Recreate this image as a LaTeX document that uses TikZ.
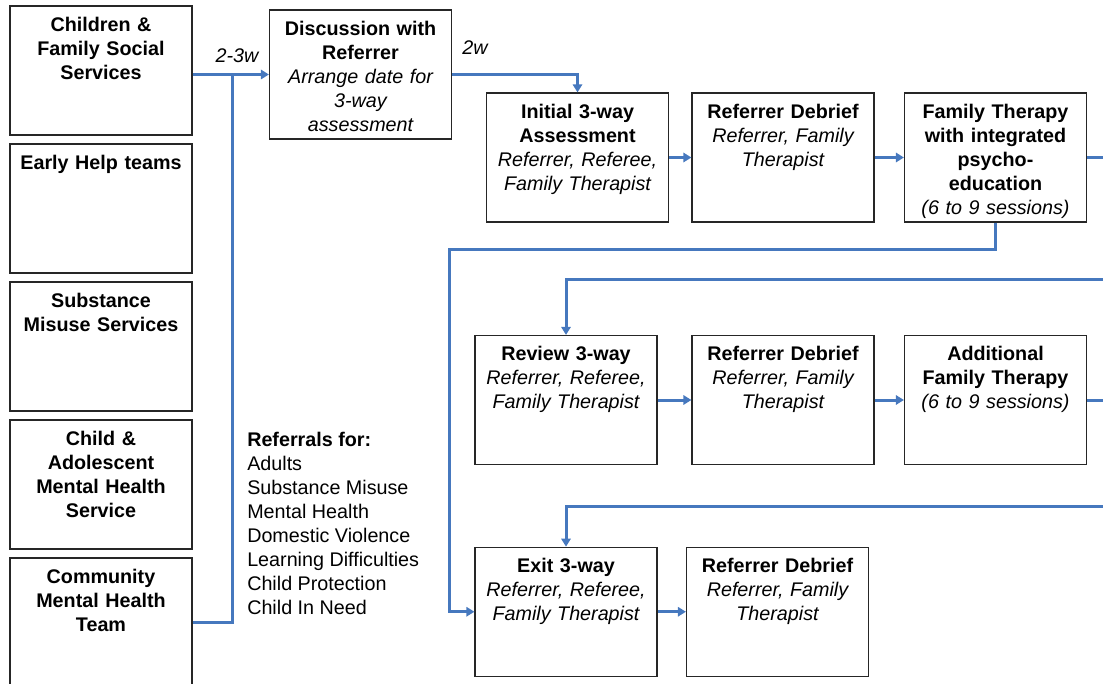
\documentclass[tikz,border=0pt]{standalone}
\usepackage{fontspec}
\setmainfont{Liberation Sans}
\usetikzlibrary{arrows.meta}
\definecolor{flowblue}{RGB}{70,120,190}
\begin{document}
\begin{tikzpicture}[x=0.75pt,y=-0.75pt,
  box/.style={draw=black!85, line width=0.9pt, minimum width=136.5pt,
    minimum height=96.75pt, inner sep=0pt},
  boxtext/.style={anchor=north, inner sep=0pt, yshift=-8.6pt, text width=134pt,
    align=center, font=\fontsize{14.8}{18}\selectfont},
  link/.style={draw=flowblue, line width=2.25pt},
  flow/.style={link, -{Triangle[length=6pt,width=7pt]}},
  lag/.style={font=\fontsize{14.8}{18}\selectfont\itshape, inner sep=0pt, anchor=base},
  listtext/.style={anchor=north west, inner sep=0pt, align=left,
    font=\fontsize{14.8}{18}\selectfont}
]
\useasboundingbox (0,0) rectangle (1103,684);

% referring services
\node[box] (cfss) at (101,70.5) {};
\node[boxtext] (cfss-t) at (cfss.north) {\bfseries Children \&\\Family Social\\Services};
\node[box] (ehelp) at (101,208.5) {};
\node[boxtext] (ehelp-t) at (ehelp.north) {\bfseries Early Help teams};
\node[box] (sms) at (101,346.5) {};
\node[boxtext] (sms-t) at (sms.north) {\bfseries Substance\\Misuse Services};
\node[box] (camhs) at (101,484.5) {};
\node[boxtext] (camhs-t) at (camhs.north) {\bfseries Child \&\\Adolescent\\Mental Health\\Service};
\node[box] (cmht) at (101,622.5) {};
\node[boxtext] (cmht-t) at (cmht.north) {\bfseries Community\\Mental Health\\Team};

% first contact
\node[box] (disc) at (360.5,74.5) {};
\node[boxtext] (disc-t) at (disc.north) {\bfseries Discussion with\\Referrer\\\mdseries\itshape Arrange date for\\3-way\\assessment};

% first cycle
\node[box] (init) at (577.5,157.5) {};
\node[boxtext] (init-t) at (init.north) {\bfseries Initial 3-way\\Assessment\\\mdseries\itshape Referrer, Referee,\\Family Therapist};
\node[box] (deb1) at (783,157.5) {};
\node[boxtext] (deb1-t) at (deb1.north) {\bfseries Referrer Debrief\\\mdseries\itshape Referrer, Family\\Therapist};
\node[box] (ft) at (995.5,157.5) {};
\node[boxtext] (ft-t) at (ft.north) {\bfseries Family Therapy\\with integrated\\psycho-\\education\\\mdseries\itshape (6 to 9 sessions)};

% review cycle
\node[box] (rev) at (566,400) {};
\node[boxtext] (rev-t) at (rev.north) {\bfseries Review 3-way\\\mdseries\itshape Referrer, Referee,\\Family Therapist};
\node[box] (deb2) at (783,400) {};
\node[boxtext] (deb2-t) at (deb2.north) {\bfseries Referrer Debrief\\\mdseries\itshape Referrer, Family\\Therapist};
\node[box] (aft) at (995.5,400) {};
\node[boxtext] (aft-t) at (aft.north) {\bfseries Additional\\Family Therapy\\\mdseries\itshape (6 to 9 sessions)};

% exit
\node[box] (exit) at (566,611.75) {};
\node[boxtext] (exit-t) at (exit.north) {\bfseries Exit 3-way\\\mdseries\itshape Referrer, Referee,\\Family Therapist};
\node[box] (deb3) at (777.5,611.75) {};
\node[boxtext] (deb3-t) at (deb3.north) {\bfseries Referrer Debrief\\\mdseries\itshape Referrer, Family\\Therapist};

% referral reasons
\node[listtext] (reasons) at (247,431.8) {\bfseries Referrals for:\\\mdseries Adults\\Substance Misuse\\Mental Health\\Domestic Violence\\Learning Difficulties\\Child Protection\\Child In Need};

% waiting times
\node[lag] (w1) at (237,62.7) {2-3w};
\node[lag] (w2) at (475,55) {2w};

% helper coordinates
\coordinate (join) at (232,74.5);
\coordinate (loop) at (449.5,249.5);
\coordinate (rim1) at (1103,157.5);
\coordinate (rim2) at (1103,280);
\coordinate (rim3) at (1103,400);
\coordinate (rim4) at (1103,506);

% connectors
\draw[link] (disc.west -| cfss.east) -- (join);
\draw[flow] (cmht.east) -| (join) -- (disc.west);
\draw[flow] (disc.east) -| (init.north);
\draw[flow] (init) -- (deb1);
\draw[flow] (deb1) -- (ft);
\draw[link] (ft.east) -- (rim1);
\draw[flow] (ft.south) |- (loop) |- (exit.west);
\draw[flow] (rim2) -| (rev.north);
\draw[flow] (rev) -- (deb2);
\draw[flow] (deb2) -- (aft);
\draw[link] (aft.east) -- (rim3);
\draw[flow] (rim4) -| (exit.north);
\draw[flow] (exit) -- (deb3);
\end{tikzpicture}
\end{document}
